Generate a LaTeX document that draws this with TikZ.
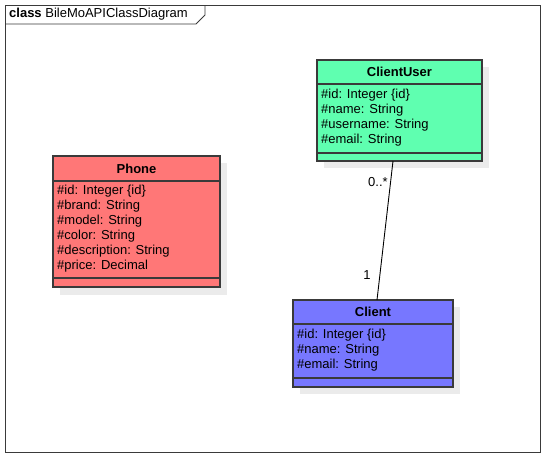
\documentclass[tikz,border=0pt]{standalone}
\usepackage{fontspec}
\setmainfont{Liberation Sans}
\definecolor{phonec}{HTML}{FF7777}
\definecolor{cuserc}{HTML}{5FFFB0}
\definecolor{clientc}{HTML}{7777FF}
\definecolor{bordc}{HTML}{3A3A3A}
\definecolor{shadc}{HTML}{EBEBEB}
\begin{document}
\begin{tikzpicture}[x=1pt,y=-1pt,
  box/.style={draw=bordc,line width=1.1pt,anchor=north west,inner sep=0pt,outer sep=0pt},
  shad/.style={fill=shadc},
  sep/.style={draw=bordc,line width=1.1pt},
  hdr/.style={font=\fontsize{13}{15}\selectfont\bfseries,inner sep=0pt},
  attr/.style={font=\fontsize{13}{15}\selectfont,anchor=west,inner sep=0pt},
  mult/.style={font=\fontsize{13}{15}\selectfont,inner sep=0pt}]
\useasboundingbox (0,0) rectangle (546,458);
% frame
\draw[draw=bordc,line width=0.9pt] (5,5) rectangle (540,452);
\draw[draw=bordc,line width=0.9pt] (5,24) -- (196,24) -- (205,15) -- (205,5);
\node[anchor=west,inner sep=0pt,font=\fontsize{13}{15}\selectfont] (title) at (9,14.5) {\textbf{class} BileMoAPIClassDiagram};
% Phone
\fill[shad] (60,163) rectangle (227,295);
\node[box,fill=phonec,minimum width=167pt,minimum height=131pt] (phone) at (53,156) {};
\draw[sep] (53,181) -- (220,181);
\draw[sep] (53,278) -- (220,278);
\node[hdr] (phoneh) at (136.5,168.5) {Phone};
\node[attr] (p1) at (57,191) {\#id: Integer \{id\}};
\node[attr] (p2) at (57,206) {\#brand: String};
\node[attr] (p3) at (57,221) {\#model: String};
\node[attr] (p4) at (57,236) {\#color: String};
\node[attr] (p5) at (57,251) {\#description: String};
\node[attr] (p6) at (57,266) {\#price: Decimal};
% ClientUser
\fill[shad] (324,67) rectangle (489,168);
\node[box,fill=cuserc,minimum width=165pt,minimum height=101pt] (cuser) at (317,60) {};
\draw[sep] (317,84) -- (482,84);
\draw[sep] (317,153) -- (482,153);
\node[hdr] (cuserh) at (399.5,72) {ClientUser};
\node[attr] (c1) at (321,95) {\#id: Integer \{id\}};
\node[attr] (c2) at (321,110) {\#name: String};
\node[attr] (c3) at (321,125) {\#username: String};
\node[attr] (c4) at (321,140) {\#email: String};
% Client
\fill[shad] (300,307) rectangle (460,394);
\node[box,fill=clientc,minimum width=160pt,minimum height=87pt] (client) at (293,300) {};
\draw[sep] (293,324) -- (453,324);
\draw[sep] (293,378) -- (453,378);
\node[hdr] (clienth) at (373,312) {Client};
\node[attr] (k1) at (297,335) {\#id: Integer \{id\}};
\node[attr] (k2) at (297,350) {\#name: String};
\node[attr] (k3) at (297,365) {\#email: String};
% association
\coordinate (a1) at (393,161);
\coordinate (a2) at (377,300);
\draw[line width=0.9pt] (a1) -- (a2);
\node[mult] (m1) at (378,182) {0..*};
\node[mult] (m2) at (367,275) {1};
\end{tikzpicture}
\end{document}
